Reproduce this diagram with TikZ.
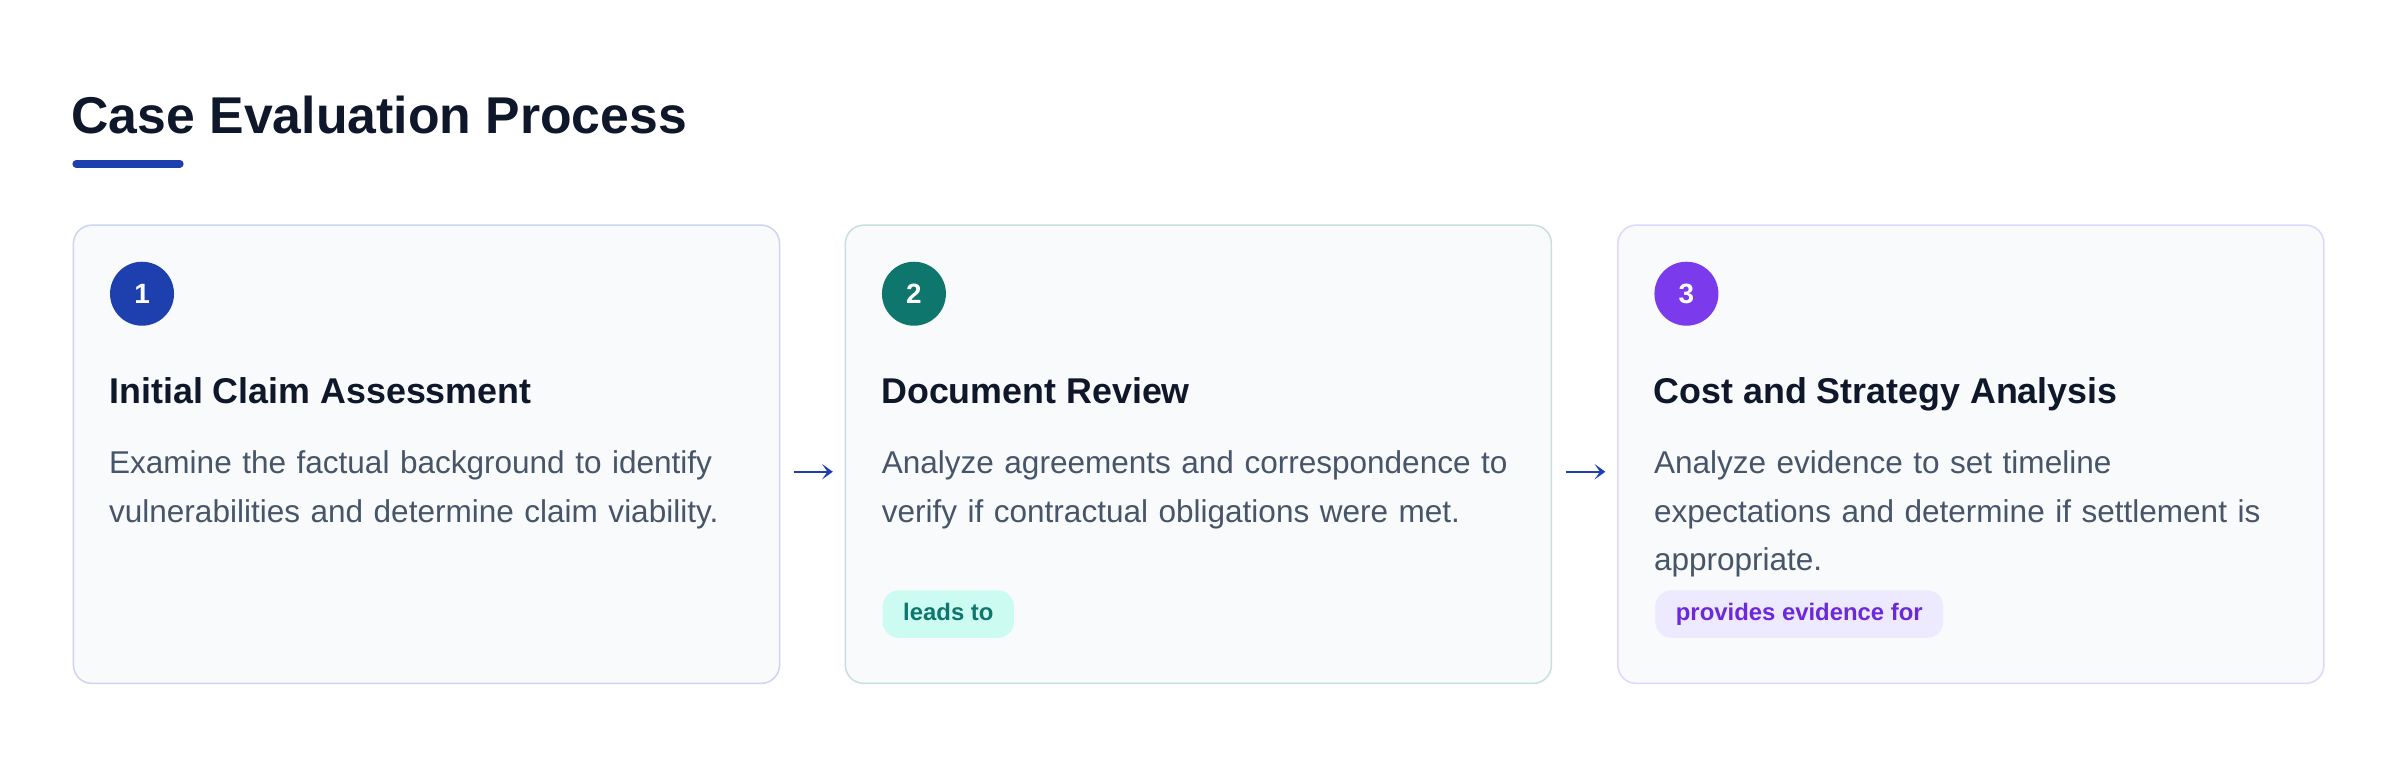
\documentclass[tikz,border=0pt]{standalone}
\usepackage{fontspec}
\setmainfont{Liberation Sans}
\usetikzlibrary{arrows.meta}
\definecolor{titlecol}{HTML}{0F172A}
\definecolor{bodycol}{HTML}{475569}
\definecolor{accent}{HTML}{1E40AF}
\definecolor{tealc}{HTML}{0F766E}
\definecolor{violetc}{HTML}{7C3AED}
\definecolor{cardfill}{HTML}{F8FAFC}
\definecolor{bordA}{HTML}{CDD5EF}
\definecolor{bordB}{HTML}{C8E0DD}
\definecolor{bordC}{HTML}{E0D6FB}
\definecolor{badgeBfill}{HTML}{CCFBF1}
\definecolor{badgeCfill}{HTML}{EDE9FE}
\definecolor{badgeCtext}{HTML}{6D28D9}
\begin{document}
\begin{tikzpicture}[x=1pt,y=-1pt,
  card/.style={draw, fill=cardfill, line width=1pt, rounded corners=12pt,
    minimum width=461.3pt, minimum height=299.4pt, anchor=north west, inner sep=0},
  num/.style={circle, inner sep=0, minimum size=41.8pt, text=white,
    font=\fontsize{18.2}{20}\selectfont\bfseries},
  heading/.style={anchor=base west, inner sep=0, text=titlecol,
    font=\fontsize{23.4}{28}\selectfont\bfseries},
  body/.style={anchor=base west, inner sep=0, text=bodycol, text width=440pt,
    align=left, font=\fontsize{20.6}{31.6}\selectfont},
  badge/.style={anchor=north west, inner xsep=13.4pt, inner ysep=0,
    minimum height=31pt, text height=11.2pt, text depth=3.3pt,
    rounded corners=10.5pt, font=\fontsize{15.6}{18}\selectfont\bfseries},
  flow/.style={draw=accent, line width=1.1pt,
    -{Stealth[length=7pt,width=10pt,inset=3.5pt]},
    shorten <=8.7pt, shorten >=7.7pt}
]
\useasboundingbox[fill=white] (0,0) rectangle (1568,494);

% title
\node[anchor=base west, inner sep=0, text=titlecol,
  font=\fontsize{33.8}{40}\selectfont\bfseries] (title) at (46.6,87.5) {Case Evaluation Process};
\draw[accent, line width=5pt, line cap=round] (49.8,107) -- (117.5,107);

% cards
\node[card, draw=bordA] (c1) at (47.5,146.6) {};
\node[card, draw=bordB] (c2) at (551.8,146.6) {};
\node[card, draw=bordC] (c3) at (1056.5,146.6) {};

% numbers
\node[num, fill=accent] (n1) at (92.8,191.9) {1};
\node[num, fill=tealc] (n2) at (597.1,191.9) {2};
\node[num, fill=violetc] (n3) at (1101.8,191.9) {3};

% headings
\node[heading] (h1) at (71.3,263.5) {Initial Claim Assessment};
\node[heading] (h2) at (575.6,263.5) {Document Review};
\node[heading] (h3) at (1080.3,263.5) {Cost and Strategy Analysis};

% bodies
\node[body] (b1) at (71.1,309.5) {Examine the factual background to identify\\vulnerabilities and determine claim viability.};
\node[body] (b2) at (575.9,309.5) {Analyze agreements and correspondence to\\verify if contractual obligations were met.};
\node[body] (b3) at (1080.4,309.5) {Analyze evidence to set timeline\\expectations and determine if settlement is\\appropriate.};

% badges
\node[badge, fill=badgeBfill, text=tealc] (t2) at (576.5,385.5) {leads to};
\node[badge, fill=badgeCfill, text=badgeCtext] (t3) at (1081.3,385.5) {provides evidence for};

% arrows between cards
\draw[flow] ([yshift=-11.4pt]c1.east) -- ([yshift=-11.4pt]c2.west);
\draw[flow] ([yshift=-11.4pt]c2.east) -- ([yshift=-11.4pt]c3.west);
\end{tikzpicture}
\end{document}
